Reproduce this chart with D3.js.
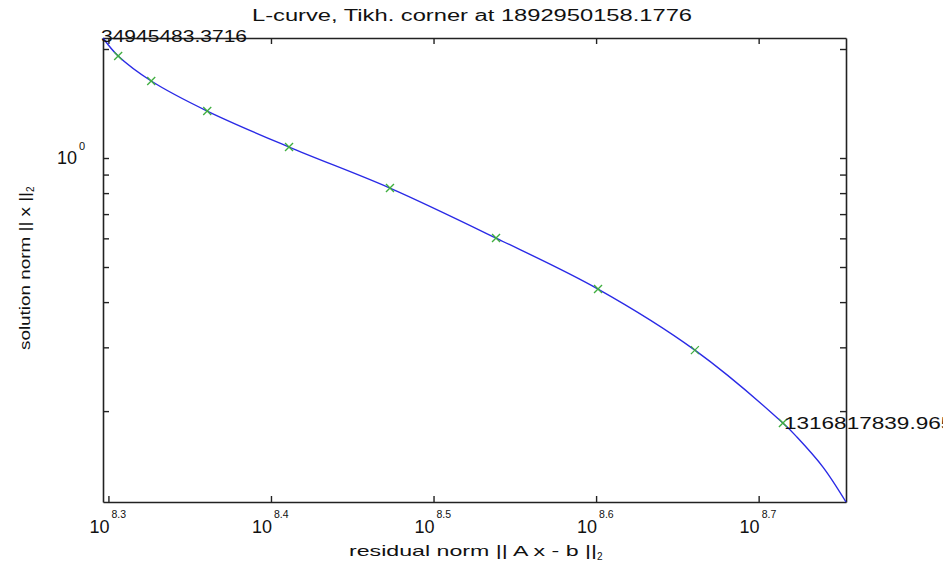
<!DOCTYPE html>
<html><head><meta charset="utf-8">
<script src="https://cdn.jsdelivr.net/npm/d3@7"></script>
<style>
body{margin:0;background:#fff}
text{font-family:"Liberation Sans",Arial,Helvetica,sans-serif;fill:#111}
</style>
</head><body>
<svg id="c" width="943" height="568"></svg>
<script>
// ---- data ----
const curveResidual = [1.980e8, 2.023e8, 2.120e8, 2.295e8, 2.577e8, 2.973e8, 3.455e8, 3.992e8, 4.579e8, 5.187e8, 5.291e8, 5.490e8, 5.672e8];
const curveSolution = [2.145, 1.913, 1.632, 1.348, 1.072, 0.826, 0.601, 0.4346, 0.2948, 0.1854, 0.1696, 0.1401, 0.1122];
const markerResidual = [2.023e8, 2.120e8, 2.295e8, 2.577e8, 2.973e8, 3.455e8, 3.992e8, 4.579e8, 5.187e8];
const markerSolution = [1.913, 1.632, 1.348, 1.072, 0.826, 0.601, 0.4346, 0.2948, 0.1854];
const xTickExponents = [8.3, 8.4, 8.5, 8.6, 8.7];
const yMajorTicks = [1];
const yMinorTicks = [2, 0.9, 0.8, 0.7, 0.6, 0.5, 0.4, 0.3, 0.2];
const titleText = "L-curve, Tikh. corner at 1892950158.1776";
const startLabel = "34945483.3716";
const endLabel = "1316817839.9654";
const xLabel = "residual norm || A x - b ||";
const yLabel = "solution norm || x ||";

// ---- layout ----
const L = 103, R = 846, T = 38, B = 502;
const svg = d3.select("#c");

const x = d3.scaleLog().domain(d3.extent(curveResidual)).range([L, R]);
const y = d3.scaleLog().domain(d3.extent(curveSolution)).range([B, T]);

const axisColor = "#222";
const xTickVals = xTickExponents.map(e => Math.pow(10, e));

// bottom & top axes (ticks inward)
svg.append("g").attr("transform", `translate(0,${B})`)
  .call(d3.axisBottom(x).tickValues(xTickVals).tickFormat("").tickSizeInner(-6).tickSizeOuter(0));
svg.append("g").attr("transform", `translate(0,${T})`)
  .call(d3.axisTop(x).tickValues(xTickVals).tickFormat("").tickSizeInner(-6).tickSizeOuter(0));
// left & right axes
const yAll = yMajorTicks.concat(yMinorTicks);
svg.append("g").attr("transform", `translate(${L},0)`)
  .call(d3.axisLeft(y).tickValues(yAll).tickFormat("").tickSizeInner(-6).tickSizeOuter(0));
svg.append("g").attr("transform", `translate(${R},0)`)
  .call(d3.axisRight(y).tickValues(yAll).tickFormat("").tickSizeInner(-6).tickSizeOuter(0));
svg.selectAll(".domain").attr("stroke", axisColor).attr("stroke-width", 1.6);
svg.selectAll(".tick line").attr("stroke", axisColor).attr("stroke-width", 1.4);

// x tick labels 10^e
xTickExponents.forEach(e => {
  const tx = x(Math.pow(10, e));
  svg.append("text").attr("x", tx + 1).attr("y", 533).attr("text-anchor", "end")
    .attr("font-size", 18).text("10");
  svg.append("text").attr("x", tx + 3).attr("y", 518)
    .attr("font-size", 10.5).text(String(e));
});
// y tick label 10^0
yMajorTicks.forEach(v => {
  const ty = y(v);
  svg.append("text").attr("x", 77).attr("y", ty + 6).attr("text-anchor", "end")
    .attr("font-size", 18).text("10");
  svg.append("text").attr("x", 79).attr("y", ty - 8)
    .attr("font-size", 11).text(String(Math.round(Math.log10(v))));
});

// curve
const line = d3.line().x(d => x(d[0])).y(d => y(d[1])).curve(d3.curveCatmullRom.alpha(0.5));
svg.append("path").datum(curveResidual.map((r, i) => [r, curveSolution[i]]))
  .attr("d", line).attr("fill", "none").attr("stroke", "#2a2ae6").attr("stroke-width", 1.4);

// markers (green x)
const s = 4;
const mk = svg.append("g").attr("stroke", "#3fae3f").attr("stroke-width", 1.3);
markerResidual.forEach((r, i) => {
  const cx = x(r), cy = y(markerSolution[i]);
  mk.append("line").attr("x1", cx - s).attr("y1", cy - s).attr("x2", cx + s).attr("y2", cy + s);
  mk.append("line").attr("x1", cx - s).attr("y1", cy + s).attr("x2", cx + s).attr("y2", cy - s);
});

// labels on curve
svg.append("text").attr("x", 101).attr("y", 42).attr("font-size", 17)
  .attr("textLength", 146).attr("lengthAdjust", "spacingAndGlyphs").text(startLabel);
svg.append("text").attr("x", x(markerResidual[markerResidual.length - 1]) + 1)
  .attr("y", y(markerSolution[markerSolution.length - 1]) + 6).attr("font-size", 17)
  .attr("textLength", 182).attr("lengthAdjust", "spacingAndGlyphs").text(endLabel);

// title
svg.append("text").attr("x", 472).attr("y", 21).attr("text-anchor", "middle").attr("font-size", 16)
  .attr("textLength", 440).attr("lengthAdjust", "spacingAndGlyphs").text(titleText);

// x label with subscript
const xl = svg.append("text").attr("x", 349).attr("y", 556).attr("font-size", 15);
xl.append("tspan").attr("textLength", 248).attr("lengthAdjust", "spacingAndGlyphs").text(xLabel);
xl.append("tspan").attr("font-size", 10).attr("dy", 4).text("2");

// y label rotated with subscript
const yl = svg.append("text").attr("transform", "translate(30,350) rotate(-90)").attr("font-size", 15);
yl.append("tspan").attr("textLength", 158).attr("lengthAdjust", "spacingAndGlyphs").text(yLabel);
yl.append("tspan").attr("font-size", 10).attr("dy", 4).text("2");
</script>
</body></html>
